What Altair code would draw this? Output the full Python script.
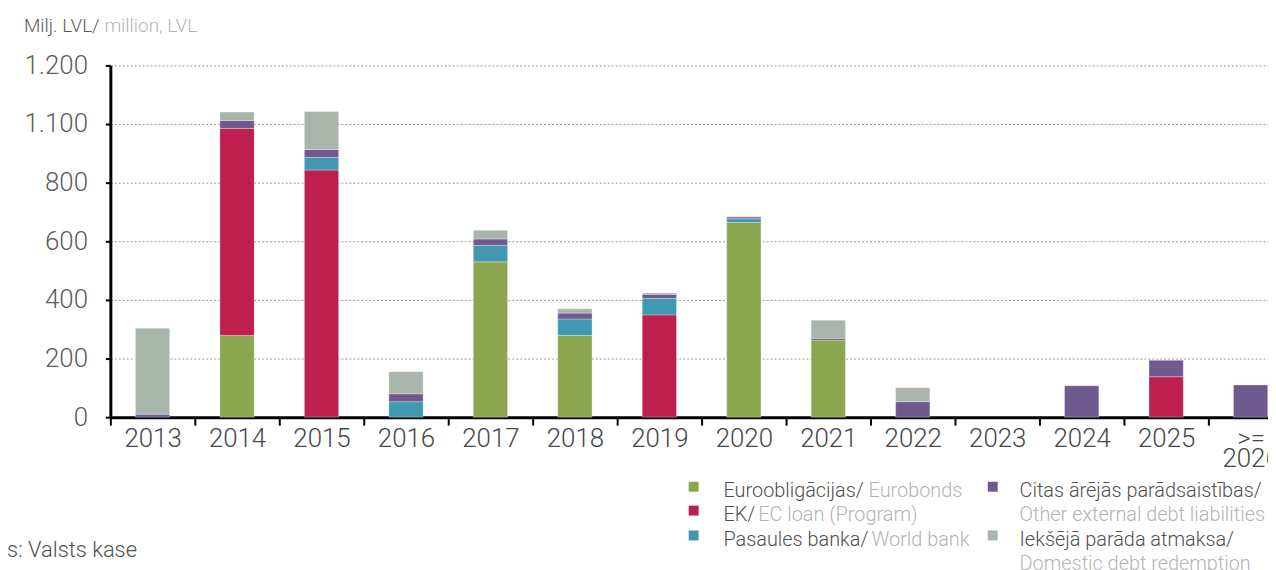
import altair as alt
import pandas as pd

# ---------------- data ----------------
years = ['2013', '2014', '2015', '2016', '2017', '2018', '2019',
         '2020', '2021', '2022', '2023', '2024', '2025', '>=2026']
eurobonds      = [0, 279, 0, 0, 530, 279, 0, 664, 263, 0, 0, 0, 0, 0]
ec_loan        = [0, 706, 843, 0, 0, 0, 349, 0, 0, 0, 0, 0, 138, 0]
world_bank     = [0, 0, 43, 53, 56, 56, 56, 13, 0, 0, 0, 0, 0, 0]
other_external = [10, 27, 27, 27, 22, 20, 14, 6, 6, 53, 0, 107, 56, 110]
domestic       = [293, 29, 130, 75, 30, 15, 5, 2, 62, 47, 0, 0, 0, 0]

series_lv = ['Euroobligācijas/', 'EK/', 'Pasaules banka/',
             'Citas ārējās parādsaistības/', 'Iekšējā parāda atmaksa/']
series_en = ['Eurobonds', 'EC loan (Program)', 'World bank',
             'Other external debt liabilities', 'Domestic debt redemption']
colors = ['#8ba64f', '#bd1f4f', '#4199b1', '#70598f', '#a9b5ab']

y_ticks = [0, 200, 400, 600, 800, 1000, 1200]
y_tick_labels = ['0', '200', '400', '600', '800', '1.100', '1.200']

title_lv = 'Milj. LVL/'
title_en = 'million, LVL'
source_text = 'Avots: Valsts kase'

# ---------------- table ----------------
values = [eurobonds, ec_loan, world_bank, other_external, domestic]
rows = []
for si, vals in enumerate(values):
    for y, v in zip(years, vals):
        if v > 0:
            rows.append({'year': y, 'value': v, 'series': series_en[si], 'idx': si})
df = pd.DataFrame(rows)

FONT = 'Roboto'
DARK = '#4f4f4f'
LIGHT = '#b3b3b3'

y_expr = ('[' + ','.join("'%s'" % s for s in y_tick_labels) + '][indexof(['
          + ','.join(str(v) for v in y_ticks) + '], datum.value)]')
x_expr = "datum.value == '>=2026' ? ['>=', '2026'] : datum.value"

bars = alt.Chart(df).mark_bar(size=34.5, stroke='white', strokeWidth=0.6,
                              strokeOpacity=0.5).encode(
    x=alt.X('year:N', sort=years,
            scale=alt.Scale(domain=years, range=[0, 1190], paddingInner=0, paddingOuter=0),
            axis=alt.Axis(title=None, tickBand='extent', labelAngle=0, labelExpr=x_expr,
                          labelFont=FONT, labelFontWeight=300, labelFontSize=26,
                          labelColor='#474747', labelBaseline='top', labelLineHeight=21,
                          labelPadding=0, domainColor='black', domainWidth=3,
                          tickColor='black', tickWidth=2, tickSize=8, grid=False)),
    y=alt.Y('value:Q', stack='zero',
            scale=alt.Scale(domain=[0, 1200], nice=False),
            axis=alt.Axis(title=None, values=y_ticks, labelExpr=y_expr,
                          labelFont=FONT, labelFontWeight=300, labelFontSize=26,
                          labelColor='#5c5c5c', labelPadding=18,
                          domainColor='black', domainWidth=3,
                          tickColor='black', tickWidth=2, tickSize=5,
                          grid=True, gridColor='#9a9a9a', gridDash=[2, 2], gridWidth=1)),
    color=alt.Color('series:N', scale=alt.Scale(domain=series_en, range=colors), legend=None),
    order=alt.Order('idx:Q', sort='ascending'),
)


def txt(s, x, y, color, size):
    return alt.Chart(pd.DataFrame({'t': [s]})).mark_text(
        align='left', baseline='alphabetic', font=FONT, fontWeight=300,
        fontSize=size, color=color).encode(
        text='t:N', x=alt.value(x), y=alt.value(y))


def square(x, y, color):
    return alt.Chart(pd.DataFrame({'t': [0]})).mark_square(
        size=100, opacity=1, color=color).encode(
        x=alt.value(x), y=alt.value(y))


layers = [bars]
# title
layers.append(txt(title_lv, -87, -34, '#5a5a5a', 19))
layers.append(txt(title_en, -6, -34, LIGHT, 19))
# legend
sym_x = [587, 587, 587, 888, 888]
sym_y = [424, 448, 473, 424, 473]
lv_x = [617, 617, 617, 915, 915]
lv_y = [434, 458.6, 483.2, 434, 483.2]
en_x = [763, 652, 766, 915, 915]
en_y = [434, 458.6, 483.2, 458.6, 507.8]
for i in range(5):
    layers.append(square(sym_x[i], sym_y[i], colors[i]))
    layers.append(txt(series_lv[i], lv_x[i], lv_y[i], DARK, 20))
    layers.append(txt(series_en[i], en_x[i], en_y[i], LIGHT, 20))
# source
layers.append(txt(source_text, -147, 495, '#505050', 22))

chart = alt.layer(*layers).properties(
    width=1165, height=354,
    autosize=alt.AutoSizeParams(type='none'),
    padding={'left': 103, 'top': 56, 'right': 0, 'bottom': 152},
).configure_view(stroke=None)

chart.save('out.html', embed_options={'renderer': 'svg', 'actions': False})
